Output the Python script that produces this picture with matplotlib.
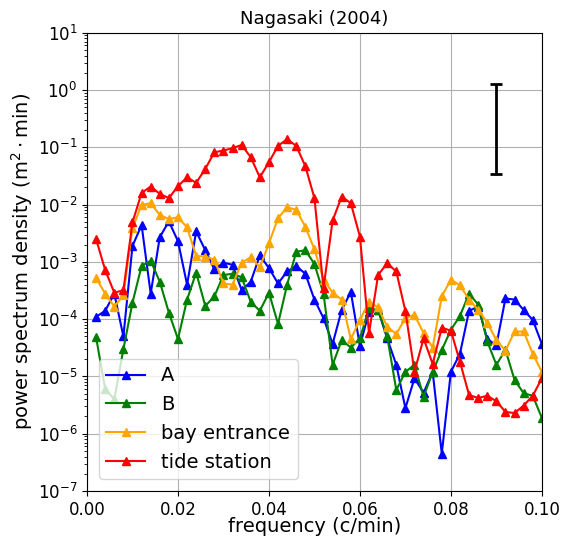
import numpy as np
import matplotlib.pyplot as plt

freq = np.arange(1, 51) * 0.002

psd_a = [1.1e-4, 1.4e-4, 2.8e-4, 5.0e-5, 1.9e-3, 4.4e-3, 2.8e-4, 2.7e-3, 5.1e-3, 2.3e-3,
         4.0e-4, 3.4e-3, 1.6e-3, 7.4e-4, 9.7e-4, 8.9e-4, 3.2e-4, 4.5e-4, 1.3e-3, 7.8e-4,
         4.2e-4, 6.8e-4, 8.5e-4, 6.2e-4, 2.2e-4, 1.04e-4, 3.7e-5, 1.45e-4, 3.0e-4, 3.4e-5,
         1.35e-4, 1.45e-4, 4.6e-5, 1.6e-5, 2.8e-6, 9.3e-6, 5.2e-6, 1.2e-5, 4.5e-7, 1.2e-5,
         2.5e-5, 1.4e-4, 1.65e-4, 4.5e-5, 3.5e-5, 2.3e-4, 2.2e-4, 1.45e-4, 9.7e-5, 3.7e-5]
psd_b = [4.8e-5, 6.0e-6, 4.0e-6, 3.0e-5, 1.95e-4, 8.5e-4, 1.05e-3, 4.5e-4, 1.3e-4, 4.5e-5,
         2.2e-4, 6.5e-4, 1.7e-4, 2.5e-4, 5.9e-4, 6.2e-4, 5.4e-4, 2.0e-4, 1.4e-4, 2.9e-4,
         8.3e-5, 4.0e-4, 1.5e-3, 1.6e-3, 9.2e-4, 2.8e-4, 1.6e-5, 4.3e-5, 3.2e-5, 4.6e-5,
         1.55e-4, 1.45e-4, 5.0e-5, 5.8e-6, 1.2e-5, 1.6e-5, 4.4e-6, 1.2e-5, 2.9e-5, 6.5e-5,
         1.14e-4, 2.8e-4, 1.8e-4, 4.1e-5, 1.6e-5, 2.9e-5, 8.7e-6, 5.1e-6, 4.6e-6, 1.9e-6]
psd_bay = [5.2e-4, 2.8e-4, 1.66e-4, 2.65e-4, 3.9e-3, 9.9e-3, 1.06e-2, 6.6e-3, 5.6e-3, 6.0e-3,
           4.0e-3, 1.27e-3, 1.24e-3, 1.1e-3, 4.2e-4, 4.0e-4, 9.7e-4, 1.2e-3, 8.1e-4, 2.1e-3,
           5.8e-3, 9.0e-3, 8.1e-3, 4.1e-3, 1.66e-3, 4.9e-4, 2.9e-4, 2.2e-4, 4.5e-5, 9.7e-5,
           2.0e-4, 1.6e-4, 7.4e-5, 5.5e-5, 1.04e-4, 1.19e-4, 5.7e-5, 3.2e-5, 2.5e-4, 4.9e-4,
           3.9e-4, 2.2e-4, 1.45e-4, 8.7e-5, 4.3e-5, 2.8e-5, 6.1e-5, 6.1e-5, 2.5e-5, 1.2e-5]
psd_tide = [2.5e-3, 7.2e-4, 2.9e-4, 3.2e-4, 4.9e-3, 1.6e-2, 2.07e-2, 1.54e-2, 1.3e-2, 2.1e-2,
            3.0e-2, 2.4e-2, 4.2e-2, 8.2e-2, 8.8e-2, 9.7e-2, 0.11, 6.7e-2, 3.0e-2, 5.5e-2,
            0.106, 0.139, 0.106, 4.7e-2, 1.3e-2, 3.5e-4, 5.3e-3, 1.38e-2, 1.06e-2, 2.77e-3,
            5.7e-5, 5.9e-4, 9.5e-4, 6.8e-4, 1.39e-4, 1.21e-5, 4.6e-5, 1.65e-5, 7.1e-5, 6.3e-5,
            1.8e-5, 4.75e-6, 4.2e-6, 4.6e-6, 3.7e-6, 2.4e-6, 2.3e-6, 3.1e-6, 4.6e-6, 9.3e-6]

# confidence interval bar
ci_x = 0.09
ci_low, ci_high = 0.034, 1.28

fig = plt.figure(figsize=(5.65, 5.41), dpi=100)
ax = fig.add_axes([0.154, 0.0924, 0.805, 0.847])
ax.plot(freq, psd_a, 'b^-', ms=6, label='A')
ax.plot(freq, psd_b, '^-', color='green', ms=6, label='B')
ax.plot(freq, psd_bay, '^-', color='orange', ms=6, label='bay entrance')
ax.plot(freq, psd_tide, 'r^-', ms=6, label='tide station')

ci_mid = np.sqrt(ci_low * ci_high)
ax.errorbar([ci_x], [ci_mid], yerr=[[ci_mid - ci_low], [ci_high - ci_mid]],
            fmt='none', ecolor='k', elinewidth=2, capsize=4, capthick=2)

ax.set_yscale('log')
ax.set_xlim(0, 0.1)
ax.set_ylim(1e-7, 1e1)
ax.set_xticks([0, 0.02, 0.04, 0.06, 0.08, 0.1])
ax.set_xticklabels(['0.00', '0.02', '0.04', '0.06', '0.08', '0.10'])
ax.tick_params(labelsize=12)
ax.grid(True)
ax.set_title('Nagasaki (2004)', fontsize=13)
ax.set_xlabel('frequency (c/min)', fontsize=14, labelpad=-1)
ax.set_ylabel(r'power spectrum density (m$^2\cdot$min)', fontsize=14, labelpad=2)
ax.legend(loc='lower left', fontsize=14, borderaxespad=0.6)
fig.savefig('out.png')
